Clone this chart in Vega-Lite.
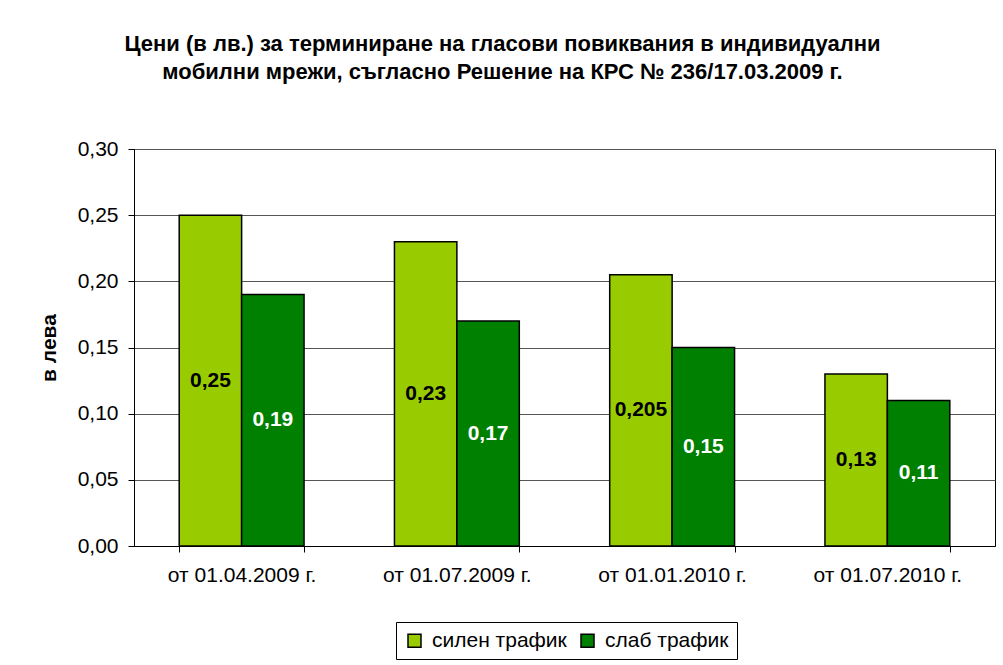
{
  "$schema": "https://vega.github.io/schema/vega-lite/v6.json",
  "autosize": {"type": "none"},
  "width": 861,
  "height": 397,
  "padding": {"left": 134, "top": 149, "right": 8, "bottom": 119},
  "background": "white",
  "title": {
    "text": ["Цени (в лв.) за терминиране на гласови повиквания в индивидуални", "мобилни мрежи, съгласно Решение на КРС № 236/17.03.2009 г."],
    "font": "Liberation Sans",
    "fontSize": 22,
    "fontWeight": "bold",
    "color": "#000",
    "anchor": "middle",
    "dx": -62,
    "offset": 54,
    "lineHeight": 28
  },
  "data": {
    "values": [
      {"period": "от 01.04.2009 г.", "traffic": "силен трафик", "value": 0.25},
      {"period": "от 01.04.2009 г.", "traffic": "слаб трафик", "value": 0.19},
      {"period": "от 01.07.2009 г.", "traffic": "силен трафик", "value": 0.23},
      {"period": "от 01.07.2009 г.", "traffic": "слаб трафик", "value": 0.17},
      {"period": "от 01.01.2010 г.", "traffic": "силен трафик", "value": 0.205},
      {"period": "от 01.01.2010 г.", "traffic": "слаб трафик", "value": 0.15},
      {"period": "от 01.07.2010 г.", "traffic": "силен трафик", "value": 0.13},
      {"period": "от 01.07.2010 г.", "traffic": "слаб трафик", "value": 0.11}
    ]
  },
  "encoding": {
    "x": {
      "field": "period",
      "type": "nominal",
      "sort": null,
      "scale": {"paddingInner": 0.42, "paddingOuter": 0.21},
      "axis": {
        "title": null,
        "labelAngle": 0,
        "labelFont": "Liberation Sans",
        "labelFontSize": 21,
        "labelColor": "#000",
        "labelPadding": 12,
        "tickBand": "extent",
        "tickColor": "#000",
        "tickSize": 6,
        "domainColor": "#000",
        "grid": false
      }
    },
    "xOffset": {"field": "traffic", "type": "nominal", "sort": null},
    "color": {
      "field": "traffic",
      "type": "nominal",
      "sort": null,
      "scale": {"domain": ["силен трафик", "слаб трафик"], "range": ["#99CC00", "#008000"]},
      "legend": {
        "title": null,
        "orient": "none",
        "legendX": 262,
        "legendY": 473,
        "direction": "horizontal",
        "symbolType": "square",
        "symbolSize": 169,
        "symbolStrokeColor": "#000",
        "symbolStrokeWidth": 1.5,
        "symbolOpacity": 1,
        "labelFont": "Liberation Sans",
        "labelFontSize": 21,
        "labelColor": "#000",
        "strokeColor": "#000",
        "padding": 8,
        "columnPadding": 10,
        "labelOffset": 7
      }
    }
  },
  "layer": [
    {
      "mark": {"type": "bar", "stroke": "#000", "strokeWidth": 1.5},
      "encoding": {
        "y": {
          "field": "value",
          "type": "quantitative",
          "scale": {"domain": [0, 0.3], "nice": false},
          "axis": {
            "title": "в лева",
            "titleFont": "Liberation Sans",
            "titleFontSize": 21,
            "titleFontWeight": "bold",
            "titleColor": "#000",
            "titlePadding": 18,
            "format": ".2f",
            "values": [0, 0.05, 0.1, 0.15, 0.2, 0.25, 0.3],
            "labelFont": "Liberation Sans",
            "labelFontSize": 21,
            "labelColor": "#000",
            "labelPadding": 10,
            "tickColor": "#000",
            "tickSize": 6,
            "domainColor": "#000",
            "gridColor": "#555",
            "gridOpacity": 1
          }
        }
      }
    },
    {
      "transform": [{"calculate": "datum.value / 2", "as": "mid"}],
      "mark": {"type": "text", "font": "Liberation Sans", "fontSize": 21, "fontWeight": "bold", "baseline": "middle"},
      "encoding": {
        "y": {"field": "mid", "type": "quantitative"},
        "text": {"field": "value", "type": "quantitative", "format": ".3~f"},
        "fill": {
          "field": "traffic",
          "type": "nominal",
          "scale": {"domain": ["силен трафик", "слаб трафик"], "range": ["#000000", "#FFFFFF"]},
          "legend": null
        }
      }
    }
  ],
  "resolve": {"scale": {"fill": "independent"}},
  "config": {
    "locale": {"number": {"decimal": ",", "thousands": " ", "grouping": [3], "currency": ["", ""]}},
    "view": {"stroke": "#000", "strokeWidth": 1},
    "axis": {"gridWidth": 1}
  }
}
